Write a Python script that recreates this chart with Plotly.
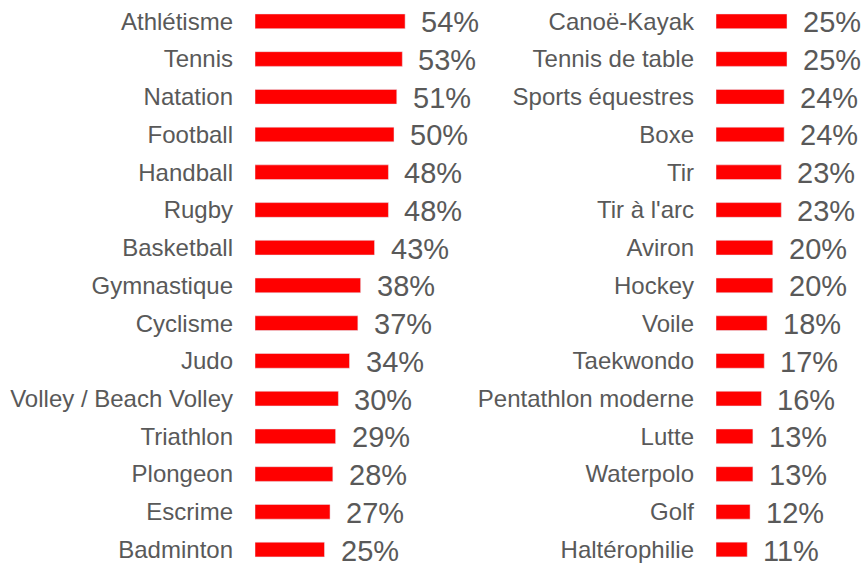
import plotly.graph_objects as go

left_sports = ["Athlétisme", "Tennis", "Natation", "Football", "Handball", "Rugby",
               "Basketball", "Gymnastique", "Cyclisme", "Judo", "Volley / Beach Volley",
               "Triathlon", "Plongeon", "Escrime", "Badminton"]
left_values = [54, 53, 51, 50, 48, 48, 43, 38, 37, 34, 30, 29, 28, 27, 25]

right_sports = ["Canoë-Kayak", "Tennis de table", "Sports équestres", "Boxe", "Tir",
                "Tir à l'arc", "Aviron", "Hockey", "Voile", "Taekwondo",
                "Pentathlon moderne", "Lutte", "Waterpolo", "Golf", "Haltérophilie"]
right_values = [25, 25, 24, 24, 23, 23, 20, 20, 18, 17, 16, 13, 13, 12, 11]

W, H = 863, 566
RED = "#FF0000"
GREY = "#595959"
FONT = '"Liberation Sans", Arial, sans-serif'

fig = go.Figure()
fig.add_trace(go.Bar(x=left_values, y=left_sports, orientation="h", marker_color=RED,
                     width=0.39, xaxis="x", yaxis="y", hoverinfo="skip"))
fig.add_trace(go.Bar(x=right_values, y=right_sports, orientation="h", marker_color=RED,
                     width=0.39, xaxis="x2", yaxis="y2", hoverinfo="skip"))

for sports, vals, xr, yr in [(left_sports, left_values, "x", "y"),
                             (right_sports, right_values, "x2", "y2")]:
    for s, v in zip(sports, vals):
        fig.add_annotation(x=v, y=s, xref=xr, yref=yr, text=f"{v}%", showarrow=False,
                           xanchor="left", yanchor="middle", xshift=14, yshift=-1,
                           font=dict(size=29, color=GREY, family=FONT))

# pixel geometry
lx0, lscale = 255, 2.78
rx0, rscale = 716, 2.84
lx1 = 470
rx1 = W
row0, step = 21.3, 37.73
ytop = -row0 / step
ybot = (H - row0) / step

fig.update_layout(
    width=W, height=H, margin=dict(l=0, r=0, t=0, b=0),
    paper_bgcolor="white", plot_bgcolor="white", showlegend=False,
    font=dict(family=FONT, color=GREY),
    xaxis=dict(domain=[lx0 / W, lx1 / W], range=[0, (lx1 - lx0) / lscale],
               visible=False, fixedrange=True),
    xaxis2=dict(domain=[rx0 / W, rx1 / W], range=[0, (rx1 - rx0) / rscale],
                visible=False, fixedrange=True),
    yaxis=dict(domain=[0, 1], range=[ybot, ytop], anchor="x", showgrid=False,
               zeroline=False, showline=False, ticks="", ticklabelstandoff=21,
               tickfont=dict(size=24, color=GREY, family=FONT), fixedrange=True),
    yaxis2=dict(domain=[0, 1], range=[ybot, ytop], anchor="x2", showgrid=False,
                zeroline=False, showline=False, ticks="", ticklabelstandoff=21,
                tickfont=dict(size=24, color=GREY, family=FONT), fixedrange=True),
)

fig.write_html("out.html", config={"displayModeBar": False},
               post_script="document.body.style.margin='0';document.body.style.overflow='hidden';")
